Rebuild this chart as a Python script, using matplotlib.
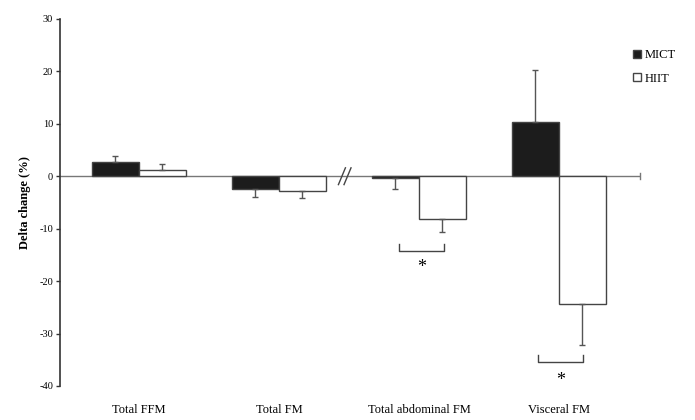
import matplotlib.pyplot as plt
import numpy as np

categories = ['Total FFM', 'Total FM', 'Total abdominal FM', 'Visceral FM']
mict = [2.7, -2.4, -0.3, 10.4]
mict_err = [1.1, 1.5, 2.1, 9.9]
hiit = [1.1, -2.8, -8.2, -24.3]
hiit_err = [1.2, 1.4, 2.5, 7.8]

plt.rcParams['font.family'] = ['Liberation Serif', 'DejaVu Serif']
plt.rcParams['axes.unicode_minus'] = False

fig = plt.figure(figsize=(6.95, 4.2), dpi=100)
ax = fig.add_axes([0.0863, 0.081, 0.8347, 0.874])

x = np.arange(len(categories))
w = 0.336
edge = '#444444'


def one_sided(vals, errs):
    lo = [e if v < 0 else 0 for v, e in zip(vals, errs)]
    hi = [e if v >= 0 else 0 for v, e in zip(vals, errs)]
    return [lo, hi]


ax.bar(x - w / 2, mict, w, color='#1c1c1c', edgecolor=edge, linewidth=1,
       yerr=one_sided(mict, mict_err), error_kw=dict(ecolor='#555555', elinewidth=1, capsize=2.5, capthick=1),
       label='MICT', zorder=3)
ax.bar(x + w / 2, hiit, w, color='white', edgecolor=edge, linewidth=1,
       yerr=one_sided(hiit, hiit_err), error_kw=dict(ecolor='#555555', elinewidth=1, capsize=2.5, capthick=1),
       label='HIIT', zorder=3)

# zero line with a small end tick
ax.axhline(0, color='#777777', lw=1, zorder=2)
ax.plot([3.58, 3.58], [-0.6, 0.6], color='#777777', lw=1, clip_on=False)

# axis break marks
for dx in (-0.02, 0.02):
    ax.plot([1.47 + dx - 0.025, 1.47 + dx + 0.025], [-1.6, 1.6], color='#444444', lw=1, zorder=4)

# significance brackets
for cx, yb, ys in [(2.02, -14.3, -17.4), (3.01, -35.4, -39.0)]:
    ax.plot([cx - 0.16, cx - 0.16, cx + 0.16, cx + 0.16], [yb + 1.3, yb, yb, yb + 1.3],
            color='#444444', lw=1)
    ax.text(cx, ys, '*', ha='center', va='center', fontsize=13)

ax.set_xlim(-0.564, 3.58)
ax.set_ylim(-40, 30)
ax.set_yticks(np.arange(-40, 31, 10))
ax.tick_params(axis='y', labelsize=7.5, length=3, width=1, color='#333333', pad=2)
ax.set_xticks(x)
ax.set_xticklabels(categories, fontsize=9)
ax.tick_params(axis='x', length=0, pad=13)
ax.set_ylabel('Delta change (%)', fontsize=9, fontweight='bold', labelpad=6)

for s in ['top', 'right', 'bottom']:
    ax.spines[s].set_visible(False)
ax.spines['left'].set_color('#333333')
ax.spines['left'].set_linewidth(1.2)

ax.legend(loc='upper left', bbox_to_anchor=(627 / 695, 1 - 43 / 420), bbox_transform=fig.transFigure,
          frameon=False, fontsize=9, handlelength=0.6, handleheight=0.6, handletextpad=0.3,
          labelspacing=0.9, borderpad=0)

plt.savefig('out.png', dpi=100)
